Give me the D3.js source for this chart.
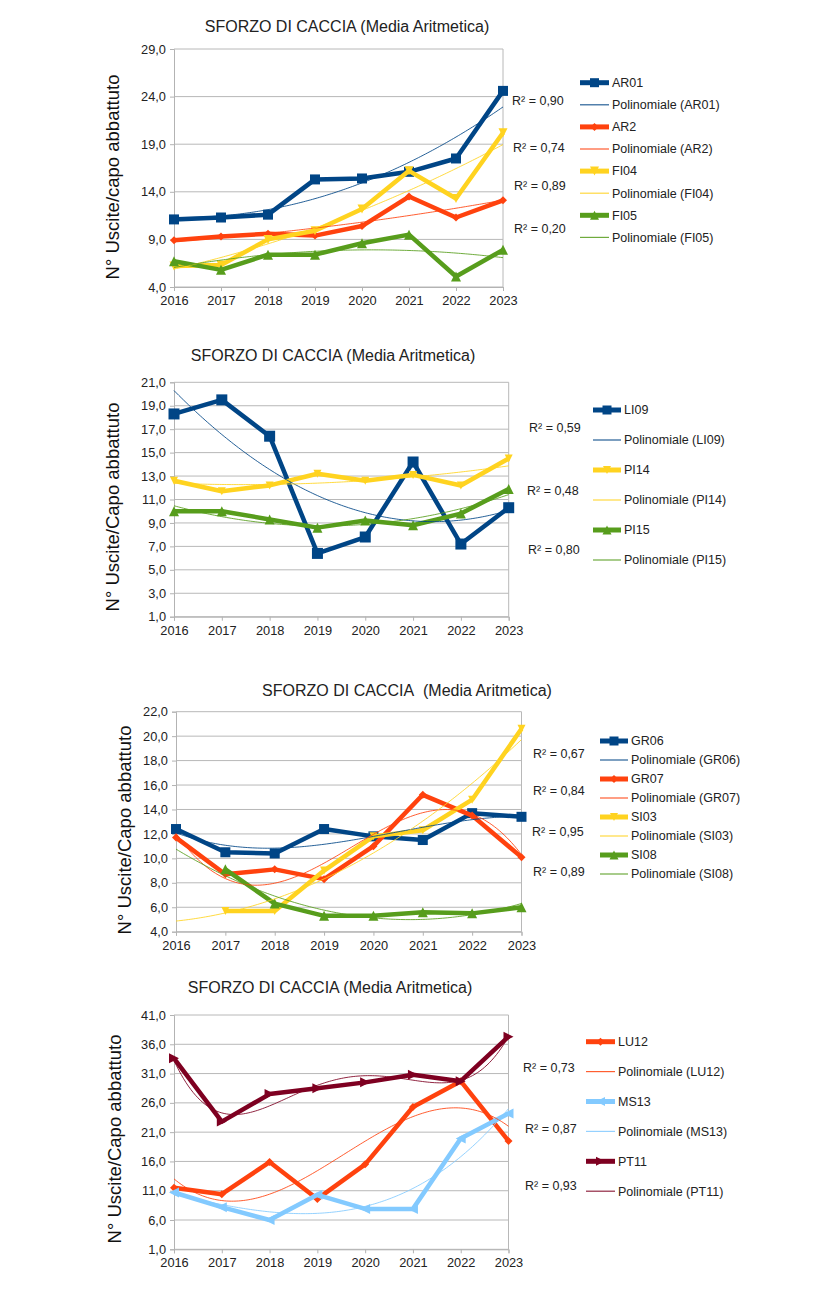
<!DOCTYPE html>
<html>
<head>
<meta charset="utf-8">
<script src="https://cdn.jsdelivr.net/npm/d3@7"></script>
<style>
  html, body { margin: 0; padding: 0; background: #fff; }
  text { font-family: "Liberation Sans", Arial, sans-serif; }
</style>
</head>
<body>
<svg id="chart" width="820" height="1294"></svg>
<script>
// ---------------- DATA ----------------
const years = ["2016", "2017", "2018", "2019", "2020", "2021", "2022", "2023"];

const titles = [
  "SFORZO DI CACCIA (Media Aritmetica)",
  "SFORZO DI CACCIA (Media Aritmetica)",
  "SFORZO DI CACCIA\u00a0\u00a0(Media Aritmetica)",
  "SFORZO DI CACCIA (Media Aritmetica)"
];
const yTitles = [
  "N° Uscite/capo abbattuto",
  "N° Uscite/Capo abbattuto",
  "N° Uscite/Capo abbattuto",
  "N° Uscite/Capo abbattuto"
];

// Panel 1
const names1 = ["AR01", "AR2", "FI04", "FI05"];
const AR01 = [11.1, 11.3, 11.6, 15.3, 15.4, 16.1, 17.5, 24.6];
const AR2  = [8.9, 9.3, 9.6, 9.4, 10.4, 13.5, 11.3, 13.1];
const FI04 = [6.2, 6.3, 9.0, 9.9, 12.2, 16.2, 13.3, 20.2];
const FI05 = [6.7, 5.8, 7.4, 7.4, 8.6, 9.5, 5.1, 7.9];
const r2_1 = ["R² = 0,90", "R² = 0,74", "R² = 0,89", "R² = 0,20"];
const yTicks1 = [4, 9, 14, 19, 24, 29];

// Panel 2
const names2 = ["LI09", "PI14", "PI15"];
const LI09 = [18.3, 19.5, 16.4, 6.4, 7.8, 14.2, 7.2, 10.3];
const PI14 = [12.6, 11.7, 12.2, 13.2, 12.6, 13.1, 12.2, 14.5];
const PI15 = [10.0, 10.0, 9.3, 8.6, 9.2, 8.8, 9.8, 11.9];
const r2_2 = ["R² = 0,59", "R² = 0,48", "R² = 0,80"];
const yTicks2 = [1, 3, 5, 7, 9, 11, 13, 15, 17, 19, 21];

// Panel 3
const names3 = ["GR06", "GR07", "SI03", "SI08"];
const GR06 = [12.4, 10.5, 10.4, 12.4, 11.8, 11.5, 13.7, 13.4];
const GR07 = [11.7, 8.7, 9.1, 8.3, 11.0, 15.2, 13.5, 10.1];
const SI03 = [null, 5.7, 5.7, 9.0, 11.8, 12.3, 14.8, 20.6];
const SI08 = [null, 9.1, 6.3, 5.3, 5.3, 5.6, 5.5, 6.0];
const r2_3 = ["R² = 0,67", "R² = 0,84", "R² = 0,95", "R² = 0,89"];
const yTicks3 = [4, 6, 8, 10, 12, 14, 16, 18, 20, 22];

// Panel 4
const names4 = ["LU12", "MS13", "PT11"];
const LU12 = [11.5, 10.4, 15.9, 9.6, 15.5, 25.3, 29.7, 19.5];
const MS13 = [10.7, 8.2, 6.0, 10.3, 7.9, 7.9, 19.9, 24.2];
const PT11 = [33.6, 22.8, 27.5, 28.5, 29.5, 30.8, 29.7, 37.3];
const r2_4 = ["R² = 0,73", "R² = 0,87", "R² = 0,93"];
const yTicks4 = [1, 6, 11, 16, 21, 26, 31, 36, 41];

const trendLabel = "Polinomiale";

// ---------------- STYLE / LAYOUT ----------------
const C = {
  blue: "#004586", red: "#ff420e", yellow: "#ffd320", green: "#579d1c",
  maroon: "#7e0021", sky: "#83caff"
};

const panels = [
  {
    title: titles[0], yTitle: yTitles[0], titleX: 347, titleY: 26,
    yTitleX: 113, yTitleY: 177,
    x0: 174, x1: 503, yTop: 49, yBot: 287, ticks: yTicks1,
    series: [
      {name: names1[0], v: AR01, color: C.blue, sym: "square", ms: 10, deg: 2},
      {name: names1[1], v: AR2, color: C.red, sym: "diamond", ms: 8, deg: 2},
      {name: names1[2], v: FI04, color: C.yellow, sym: "down", ms: 9, deg: 2},
      {name: names1[3], v: FI05, color: C.green, sym: "up", ms: 10, deg: 2}
    ],
    legend: {x: 580, w: 29, y0: 82.7, dy: 22.1},
    r2: r2_1, r2pos: [[512, 100.7], [513, 147.7], [514, 185.7], [514, 229]]
  },
  {
    title: titles[1], yTitle: yTitles[1], titleX: 333, titleY: 355,
    yTitleX: 113, yTitleY: 507,
    x0: 174, x1: 508.7, yTop: 382.3, yBot: 616.7, ticks: yTicks2,
    series: [
      {name: names2[0], v: LI09, color: C.blue, sym: "square", ms: 11, deg: 2},
      {name: names2[1], v: PI14, color: C.yellow, sym: "down", ms: 8, deg: 2},
      {name: names2[2], v: PI15, color: C.green, sym: "up", ms: 10, deg: 2}
    ],
    legend: {x: 593, w: 28, y0: 410, dy: 30},
    r2: r2_2, r2pos: [[529, 427.3], [527, 491], [528, 549.3]]
  },
  {
    title: titles[2], yTitle: yTitles[2], titleX: 407, titleY: 690,
    yTitleX: 124.5, yTitleY: 830,
    x0: 176, x1: 521.5, yTop: 711.7, yBot: 931.7, ticks: yTicks3,
    series: [
      {name: names3[0], v: GR06, color: C.blue, sym: "square", ms: 10, deg: 3},
      {name: names3[1], v: GR07, color: C.red, sym: "diamond", ms: 8, deg: 3},
      {name: names3[2], v: SI03, color: C.yellow, sym: "down", ms: 8, deg: 2},
      {name: names3[3], v: SI08, color: C.green, sym: "up", ms: 10, deg: 2}
    ],
    legend: {x: 600, w: 28, y0: 741, dy: 19},
    r2: r2_3, r2pos: [[533, 753.3], [533, 791], [532, 831.7], [533, 871.7]]
  },
  {
    title: titles[3], yTitle: yTitles[3], titleX: 330, titleY: 987,
    yTitleX: 114.5, yTitleY: 1139,
    x0: 174, x1: 508.5, yTop: 1015, yBot: 1249.3, ticks: yTicks4,
    series: [
      {name: names4[0], v: LU12, color: C.red, sym: "diamond", ms: 8, deg: 3},
      {name: names4[1], v: MS13, color: C.sky, sym: "left", ms: 10, deg: 3},
      {name: names4[2], v: PT11, color: C.maroon, sym: "right", ms: 10, deg: 4}
    ],
    legend: {x: 586, w: 29, y0: 1041.7, dy: 29.9},
    r2: r2_4, r2pos: [[523, 1067.3], [525, 1128.3], [525, 1186]]
  }
];

// ---------------- HELPERS ----------------
function symPath(type, s) {
  const h = s / 2;
  switch (type) {
    case "square": return `M${-h},${-h}H${h}V${h}H${-h}Z`;
    case "diamond": return `M0,${-h}L${h},0L0,${h}L${-h},0Z`;
    case "up": return `M0,${-h}L${h},${h}L${-h},${h}Z`;
    case "down": return `M${-h},${-h}L${h},${-h}L0,${h}Z`;
    case "right": return `M${-h},${-h}L${h},0L${-h},${h}Z`;
    case "left": return `M${h},${-h}L${-h},0L${h},${h}Z`;
  }
}

// least-squares polynomial fit (like the spreadsheet's polynomial trend line)
function polyfit(xs, ys, deg) {
  const n = deg + 1;
  const A = Array.from({length: n}, () => new Array(n + 1).fill(0));
  xs.forEach((x, k) => {
    const y = ys[k];
    for (let i = 0; i < n; i++) {
      for (let j = 0; j < n; j++) A[i][j] += Math.pow(x, i + j);
      A[i][n] += Math.pow(x, i) * y;
    }
  });
  for (let c = 0; c < n; c++) {
    let p = c;
    for (let r = c + 1; r < n; r++) if (Math.abs(A[r][c]) > Math.abs(A[p][c])) p = r;
    [A[c], A[p]] = [A[p], A[c]];
    for (let r = 0; r < n; r++) {
      if (r === c) continue;
      const f = A[r][c] / A[c][c];
      for (let j = c; j <= n; j++) A[r][j] -= f * A[c][j];
    }
  }
  const coef = A.map((row, i) => row[n] / row[i]);
  return t => coef.reduce((s, c, i) => s + c * Math.pow(t, i), 0);
}

const fmt = d => d3.format(".1f")(d).replace(".", ",");

const svg = d3.select("#chart");
svg.append("rect").attr("width", 820).attr("height", 1294).attr("fill", "#fff");

panels.forEach(P => {
  const g = svg.append("g");
  const yMin = d3.min(P.ticks), yMax = d3.max(P.ticks);
  const xIdx = d3.scaleLinear().domain([0, years.length - 1]).range([P.x0, P.x1]);
  const xCat = d3.scalePoint().domain(years).range([P.x0, P.x1]);
  const y = d3.scaleLinear().domain([yMin, yMax]).range([P.yBot, P.yTop]);

  // gridlines
  g.append("g").selectAll("line").data(P.ticks).join("line")
    .attr("x1", P.x0).attr("x2", P.x1)
    .attr("y1", d => y(d)).attr("y2", d => y(d))
    .attr("stroke", "#b8b8b8").attr("stroke-width", 1);
  // right border
  g.append("line").attr("x1", P.x1).attr("x2", P.x1)
    .attr("y1", P.yTop).attr("y2", P.yBot)
    .attr("stroke", "#b8b8b8").attr("stroke-width", 1);

  // axes
  const ay = g.append("g").attr("transform", `translate(${P.x0},0)`)
    .call(d3.axisLeft(y).tickValues(P.ticks).tickFormat(fmt).tickSize(4).tickPadding(4));
  const ax = g.append("g").attr("transform", `translate(0,${P.yBot})`)
    .call(d3.axisBottom(xCat).tickSize(4).tickPadding(5));
  [ay, ax].forEach(a => {
    a.selectAll("path, line").attr("stroke", "#b3b3b3");
    a.selectAll("text").attr("fill", "#222").style("font-size", "12.8px")
      .style("font-family", '"Liberation Sans", Arial, sans-serif');
  });

  // titles
  g.append("text").attr("x", P.titleX).attr("y", P.titleY).attr("dy", "0.35em")
    .attr("text-anchor", "middle").attr("fill", "#222").style("font-size", "16px")
    .text(P.title);
  g.append("text")
    .attr("transform", `translate(${P.yTitleX},${P.yTitleY}) rotate(-90)`)
    .attr("dy", "0.35em").attr("text-anchor", "middle").attr("fill", "#111")
    .style("font-size", "18.5px").text(P.yTitle);

  // trend computation (least squares on the plotted values)
  P.series.forEach(S => {
    const xs = [], ys = [];
    S.v.forEach((v, i) => { if (v != null) { xs.push((i - 3.5) / 3.5); ys.push(v); } });
    const f = polyfit(xs, ys, S.deg);
    S.trend = d3.range(0, 7.001, 0.05).map(i => [i, f((i - 3.5) / 3.5)]);
  });

  // data lines with their markers, series by series
  P.series.forEach(S => {
    const sg = g.append("g");
    const line = d3.line().defined(d => d != null)
      .x((d, i) => xIdx(i)).y(d => y(d));
    sg.append("path").datum(S.v).attr("d", line)
      .attr("fill", "none").attr("stroke", S.color).attr("stroke-width", 4.5)
      .attr("stroke-linejoin", "round");
    sg.append("g").selectAll("path")
      .data(S.v.map((v, i) => ({v, i})).filter(d => d.v != null))
      .join("path")
      .attr("transform", d => `translate(${xIdx(d.i)},${y(d.v)})`)
      .attr("d", symPath(S.sym, S.ms))
      .attr("fill", S.color);
  });
  // thin trend lines on top
  P.series.forEach(S => {
    const tl = d3.line().x(d => xIdx(d[0])).y(d => y(d[1]));
    g.append("path").datum(S.trend).attr("d", tl)
      .attr("fill", "none").attr("stroke", S.color).attr("stroke-width", 1)
      .attr("opacity", 0.85);
  });

  // legend
  const L = P.legend;
  P.series.forEach((S, k) => {
    const ys = L.y0 + 2 * k * L.dy, yt = ys + L.dy;
    g.append("line").attr("x1", L.x).attr("x2", L.x + L.w).attr("y1", ys).attr("y2", ys)
      .attr("stroke", S.color).attr("stroke-width", 5);
    g.append("path").attr("transform", `translate(${L.x + L.w / 2},${ys})`)
      .attr("d", symPath(S.sym, Math.min(S.ms, 9))).attr("fill", S.color);
    g.append("text").attr("x", L.x + L.w + 3).attr("y", ys).attr("dy", "0.35em")
      .attr("fill", "#222").style("font-size", "12.5px").text(S.name);
    g.append("line").attr("x1", L.x).attr("x2", L.x + L.w).attr("y1", yt).attr("y2", yt)
      .attr("stroke", S.color).attr("stroke-width", 1.2).attr("opacity", 0.85);
    g.append("text").attr("x", L.x + L.w + 3).attr("y", yt).attr("dy", "0.35em")
      .attr("fill", "#222").style("font-size", "12.5px")
      .text(`${trendLabel} (${S.name})`);
  });

  // R² labels
  P.r2.forEach((t, k) => {
    g.append("text").attr("x", P.r2pos[k][0]).attr("y", P.r2pos[k][1]).attr("dy", "0.35em")
      .attr("fill", "#222").style("font-size", "12.5px").text(t);
  });
});
</script>
</body>
</html>
